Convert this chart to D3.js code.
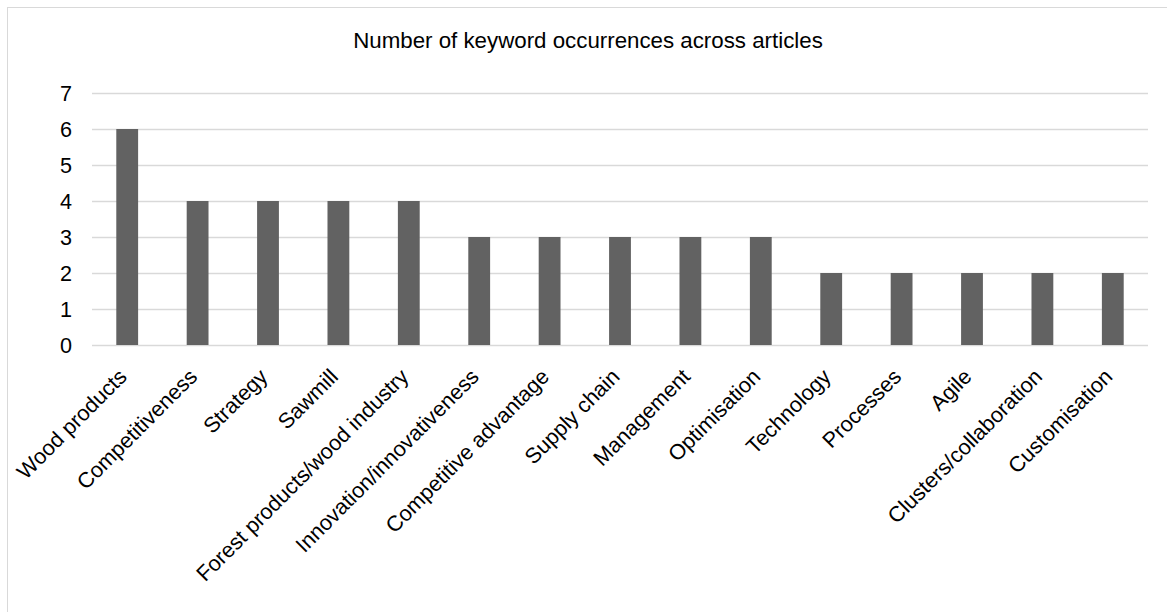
<!DOCTYPE html>
<html>
<head>
<meta charset="utf-8">
<script src="https://cdn.jsdelivr.net/npm/d3@7"></script>
<style>
  html, body { margin: 0; padding: 0; background: #fff; }
  svg { display: block; font-family: "Liberation Sans", Arial, sans-serif; }
</style>
</head>
<body>
<svg id="chart" width="1167" height="612"></svg>
<script>
const categories = ["Wood products", "Competitiveness", "Strategy", "Sawmill",
  "Forest products/wood industry", "Innovation/innovativeness", "Competitive advantage",
  "Supply chain", "Management", "Optimisation", "Technology", "Processes", "Agile",
  "Clusters/collaboration", "Customisation"];
const values = [6, 4, 4, 4, 4, 3, 3, 3, 3, 3, 2, 2, 2, 2, 2];
const yTicks = [0, 1, 2, 3, 4, 5, 6, 7];
const title = "Number of keyword occurrences across articles";

const svg = d3.select("#chart");
const plot = { left: 92, right: 1148, top: 93, bottom: 345 };
const FS = "21.6px";

svg.append("rect").attr("x", 7.5).attr("y", 7.5).attr("width", 1180).attr("height", 640)
  .attr("fill", "#fff").attr("stroke", "#d9d9d9").attr("stroke-width", 1);

const x = d3.scaleBand().domain(categories).range([plot.left, plot.right]).paddingInner(0.69).paddingOuter(0.345);
const y = d3.scaleLinear().domain([0, 7]).range([plot.bottom, plot.top]);

// gridlines
svg.append("g").selectAll("line").data(yTicks).join("line")
  .attr("x1", plot.left).attr("x2", plot.right)
  .attr("y1", d => Math.round(y(d)) + 0.5).attr("y2", d => Math.round(y(d)) + 0.5)
  .attr("stroke", "#d9d9d9").attr("stroke-width", 1.3);

// y axis labels
const yAxis = d3.axisLeft(y).tickValues(yTicks).tickFormat(d3.format("d")).tickSize(0).tickPadding(0);
const yg = svg.append("g").attr("transform", `translate(72,0)`).call(yAxis);
yg.select(".domain").remove();
yg.attr("font-size", null).attr("font-family", null);
yg.selectAll("text").attr("font-size", FS).attr("fill", "#000").attr("dy", "0.35em");

// bars
svg.append("g").selectAll("rect").data(values).join("rect")
  .attr("x", (d, i) => x(categories[i]))
  .attr("width", x.bandwidth())
  .attr("y", d => y(d))
  .attr("height", d => y(0) - y(d))
  .attr("fill", "#626262");

// x labels
const xAxis = d3.axisBottom(x).tickSize(0).tickPadding(0);
const xg = svg.append("g").attr("transform", `translate(0,${plot.bottom})`).call(xAxis);
xg.select(".domain").remove();
xg.attr("font-size", null).attr("font-family", null);
xg.selectAll(".tick text")
  .attr("font-size", FS).attr("fill", "#000")
  .attr("text-anchor", "end")
  .attr("dy", null).attr("y", null)
  .attr("transform", "translate(1,33) rotate(-45)");

// title
svg.append("text").attr("x", 588).attr("y", 48).attr("text-anchor", "middle")
  .attr("font-size", "22.3px").attr("fill", "#000").text(title);
</script>
</body>
</html>
